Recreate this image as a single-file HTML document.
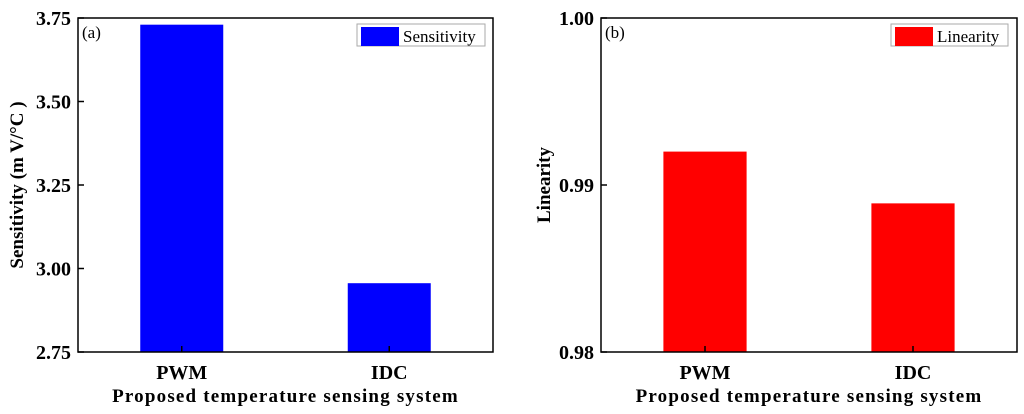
<!DOCTYPE html>
<html><head><meta charset="utf-8"><style>
html,body{margin:0;padding:0;background:#fff;}
svg{display:block;font-family:"Liberation Serif",serif;}
</style></head><body>
<svg id="chart" width="1024" height="414" viewBox="0 0 1024 414"></svg>
<script>
const categories = ["PWM", "IDC"];
const sensitivityValues = [3.73, 2.956];
const sensitivityTicks = ["2.75", "3.00", "3.25", "3.50", "3.75"];
const linearityValues = [0.992, 0.9889];
const linearityTicks = ["0.98", "0.99", "1.00"];

const NS = "http://www.w3.org/2000/svg";
const svg = document.getElementById('chart');
function mk(tag, attrs, parent, text) {
  const e = document.createElementNS(NS, tag);
  for (const k in attrs) e.setAttribute(k, attrs[k]);
  if (text !== undefined) e.textContent = text;
  (parent || svg).appendChild(e);
  return e;
}
function panel(cfg) {
  const g = mk('g', {});
  
  
  const {x0, x1, y0, y1} = cfg;
  const ticks = cfg.ticks.map(Number);
  const vmin = ticks[0], vmax = ticks[ticks.length - 1];
  const yScale = v => y1 - (v - vmin) / (vmax - vmin) * (y1 - y0);
  const bw = (x1 - x0) / categories.length;
  const xScale = i => x0 + bw * (i + 0.5);
  const barW = bw * 0.4;
  cfg.values.forEach((v, i) => {
    const r = mk('rect', {x: xScale(i) - barW / 2, y: yScale(v), width: barW, height: y1 - yScale(v), fill: cfg.color}, g);
    
    
  });
  const frame = mk('rect', {x: x0, y: y0, width: x1 - x0, height: y1 - y0, fill: 'none', stroke: '#000', 'stroke-width': 1.5}, g);
  
  
  cfg.ticks.forEach((t, i) => {
    const y = yScale(Number(t));
    mk('line', {x1: x0, x2: x0 + 6, y1: y, y2: y, stroke: '#000', 'stroke-width': 1.5}, g);
    const tl = mk('text', {x: x0 - 7, y: y + 7, 'text-anchor': 'end', 'font-size': 20, 'font-weight': 'bold'}, g, t);
    
    
  });
  categories.forEach((c, i) => {
    const x = xScale(i);
    mk('line', {x1: x, x2: x, y1: y1, y2: y1 - 6, stroke: '#000', 'stroke-width': 1.5}, g);
    const tl = mk('text', {x: x, y: y1 + 27, 'text-anchor': 'middle', 'font-size': 20, 'font-weight': 'bold'}, g, c);
    
    
  });
  const xt = mk('text', {x: (x0 + x1) / 2, y: y1 + 50, 'text-anchor': 'middle', 'font-size': 19, 'font-weight': 'bold', 'letter-spacing': 1.2}, g, 'Proposed temperature sensing system');
  
  
  const yt = mk('text', {x: 0, y: 0, transform: `translate(${cfg.ytx},${(y0 + y1) / 2}) rotate(-90)`, 'text-anchor': 'middle', 'font-size': 19, 'font-weight': 'bold'}, g, cfg.ytitle);
  
  
  const pl = mk('text', {x: x0 + 4, y: y0 + 20, 'font-size': 17}, g, cfg.label);
  
  
  const lg = mk('g', {}, g);
  
  
  mk('rect', {x: cfg.lx, y: y0 + 6, width: cfg.lw, height: 22, fill: '#fff', stroke: '#aaa', 'stroke-width': 1}, lg);
  mk('rect', {x: cfg.lx + 4, y: y0 + 9, width: 38, height: 19, fill: cfg.color}, lg);
  mk('text', {x: cfg.lx + 46, y: y0 + 24, 'font-size': 17}, lg, cfg.legend);
}
panel({name: 'sensitivity-panel', x0: 78, x1: 493, y0: 18, y1: 352, ticks: sensitivityTicks, values: sensitivityValues, color: '#0000ff', ytitle: 'Sensitivity (m V/°C )', ytx: 23, label: '(a)', legend: 'Sensitivity', lx: 357, lw: 128});
panel({name: 'linearity-panel', x0: 601, x1: 1017, y0: 18, y1: 352, ticks: linearityTicks, values: linearityValues, color: '#ff0000', ytitle: 'Linearity', ytx: 550, label: '(b)', legend: 'Linearity', lx: 891, lw: 117});
</script>
</body></html>
